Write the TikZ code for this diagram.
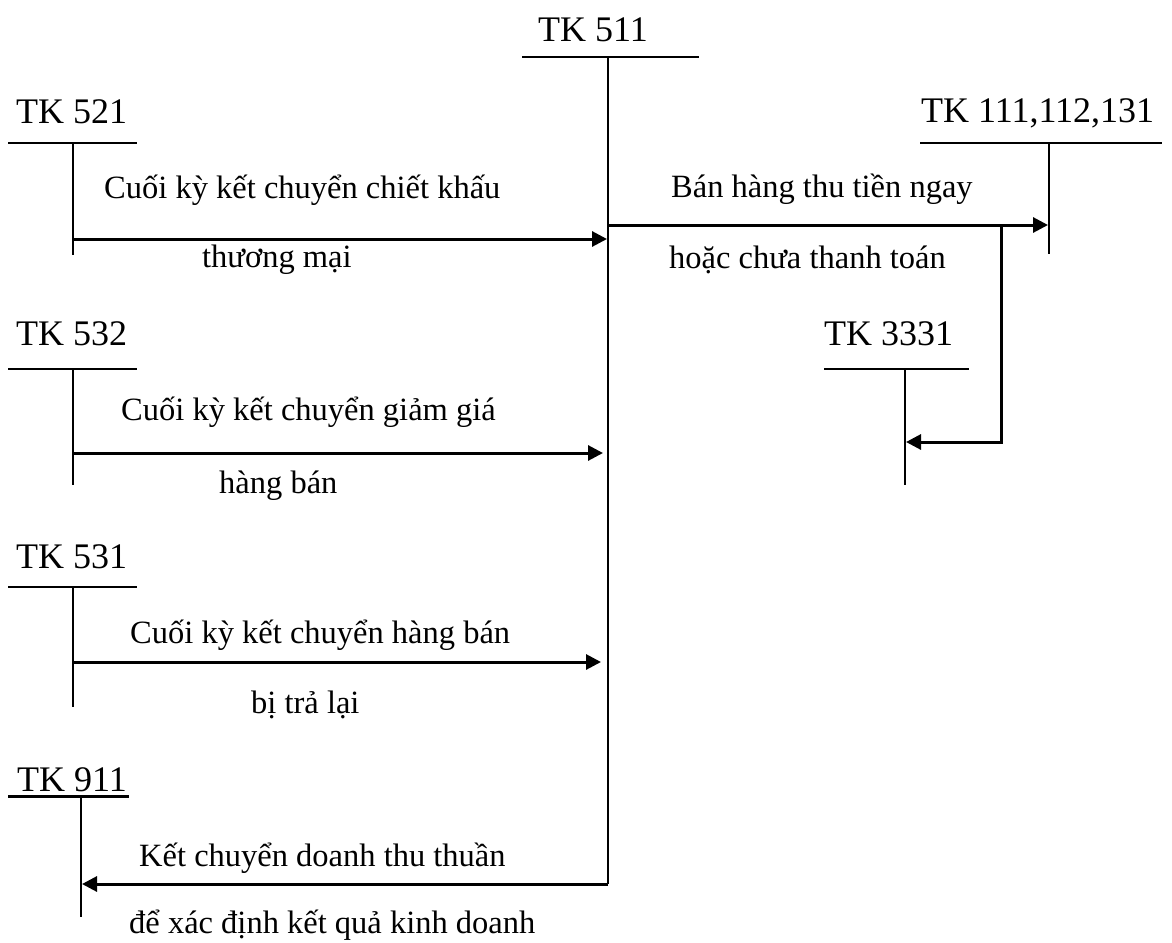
\documentclass[tikz,border=0pt]{standalone}
\usepackage{fontspec}
\setmainfont{Liberation Serif}
\usetikzlibrary{arrows.meta}
\tikzset{
  tklabel/.style={anchor=base west, inner sep=0pt, font=\fontsize{36}{40}\selectfont},
  flowtext/.style={anchor=base west, inner sep=0pt, font=\fontsize{32.5}{36}\selectfont},
  tline/.style={line width=2pt},
  flow/.style={line width=3pt, -{Triangle[length=15pt,width=15pt]}},
}
\begin{document}
\begin{tikzpicture}[x=1pt,y=-1pt]
\useasboundingbox (0,0) rectangle (1172,942);

% ---- T-account titles ----
\node[tklabel] (t511) at (538,42) {TK 511};
\node[tklabel] (t521) at (16,123) {TK 521};
\node[tklabel] (t532) at (16,345) {TK 532};
\node[tklabel] (t531) at (16,568) {TK 531};
\node[tklabel] (t911) at (17,791) {TK 911};
\node[tklabel] (t111) at (921,122) {TK 111,112,131};
\node[tklabel] (t3331) at (824,345) {TK 3331};

% ---- T-account shapes ----
% TK 511
\coordinate (h511l) at (522,57); \coordinate (h511r) at (699,57);
\coordinate (v511t) at (608,57); \coordinate (v511b) at (608,884);
\draw[tline] (h511l) -- (h511r);
\draw[line width=2.5pt] (v511t) -- (v511b);
% TK 521
\coordinate (h521l) at (8,143); \coordinate (h521r) at (137,143);
\coordinate (v521t) at (73,143); \coordinate (v521b) at (73,255);
\draw[tline] (h521l) -- (h521r);
\draw[tline] (v521t) -- (v521b);
% TK 532
\coordinate (h532l) at (8,369); \coordinate (h532r) at (137,369);
\coordinate (v532t) at (73,369); \coordinate (v532b) at (73,485);
\draw[tline] (h532l) -- (h532r);
\draw[tline] (v532t) -- (v532b);
% TK 531
\coordinate (h531l) at (8,587); \coordinate (h531r) at (137,587);
\coordinate (v531t) at (73,587); \coordinate (v531b) at (73,707);
\draw[tline] (h531l) -- (h531r);
\draw[tline] (v531t) -- (v531b);
% TK 911
\coordinate (h911l) at (8,796); \coordinate (h911r) at (129,796);
\coordinate (v911t) at (81,796); \coordinate (v911b) at (81,917);
\draw[line width=3pt] (h911l) -- (h911r);
\draw[tline] (v911t) -- (v911b);
% TK 111,112,131
\coordinate (h111l) at (920,143); \coordinate (h111r) at (1162,143);
\coordinate (v111t) at (1049,143); \coordinate (v111b) at (1049,254);
\draw[tline] (h111l) -- (h111r);
\draw[tline] (v111t) -- (v111b);
% TK 3331
\coordinate (h3331l) at (824,369); \coordinate (h3331r) at (969,369);
\coordinate (v3331t) at (905,369); \coordinate (v3331b) at (905,485);
\draw[tline] (h3331l) -- (h3331r);
\draw[tline] (v3331t) -- (v3331b);

% ---- flows ----
\coordinate (s521) at (73,239);  \coordinate (e521) at (607,239);
\coordinate (s532) at (73,453);  \coordinate (e532) at (603,453);
\coordinate (s531) at (73,662);  \coordinate (e531) at (601,662);
\coordinate (s511) at (608,225); \coordinate (e111) at (1048,225);
\coordinate (br)  at (1001,225); \coordinate (brc) at (1001,442);
\coordinate (e3331) at (906,442);
\coordinate (e911) at (82,884);

\draw[flow] (s521) -- (e521);
\draw[flow] (s532) -- (e532);
\draw[flow] (s531) -- (e531);
\draw[flow] (s511) -- (e111);
\draw[flow] (br) -- (brc) -- (e3331);
\draw[flow] (v511b) -- (e911);

% ---- flow texts ----
\node[flowtext] (l1a) at (104,198) {Cuối kỳ kết chuyển chiết khấu};
\node[flowtext] (l1b) at (202,267) {thương mại};
\node[flowtext] (l2a) at (671,197) {Bán hàng thu tiền ngay};
\node[flowtext] (l2b) at (669,268) {hoặc chưa thanh toán};
\node[flowtext] (l3a) at (121,420) {Cuối kỳ kết chuyển giảm giá};
\node[flowtext] (l3b) at (219,493) {hàng bán};
\node[flowtext] (l4a) at (130,643) {Cuối kỳ kết chuyển hàng bán};
\node[flowtext] (l4b) at (251,713) {bị trả lại};
\node[flowtext] (l5a) at (139,866) {Kết chuyển doanh thu thuần};
\node[flowtext] (l5b) at (129,933) {để xác định kết quả kinh doanh};
\end{tikzpicture}
\end{document}
